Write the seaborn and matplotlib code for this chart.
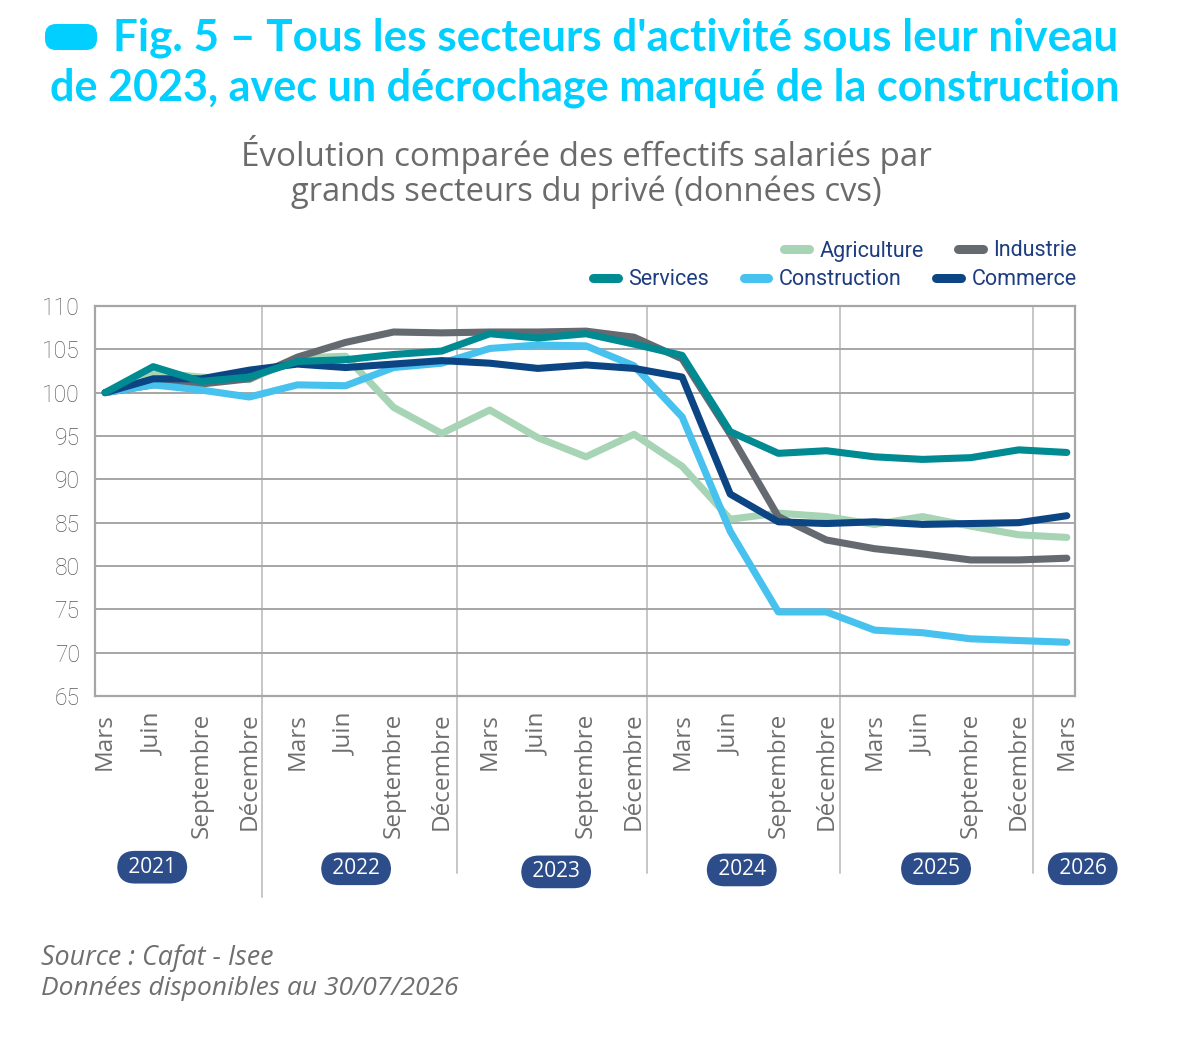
import numpy as np
import pandas as pd
import matplotlib
matplotlib.use("Agg")
import matplotlib.pyplot as plt
import matplotlib.transforms as mtransforms
from matplotlib.lines import Line2D
from matplotlib.patches import FancyBboxPatch
import seaborn as sns

# ---------------- data ----------------
months = ["Mars", "Juin", "Septembre", "Décembre"] * 5 + ["Mars"]
years = ["2021", "2022", "2023", "2024", "2025", "2026"]

agriculture = [100, 102.3, 101.8, 101.5, 104.0, 104.2, 98.3, 95.3, 98.0, 94.8, 92.6,
               95.2, 91.5, 85.4, 86.1, 85.7, 84.8, 85.7, 84.6, 83.6, 83.3]
industrie = [100, 100.9, 101.0, 101.6, 104.1, 105.8, 107.0, 106.9, 107.0, 107.0, 107.1,
             106.4, 103.9, 95.2, 85.7, 83.0, 82.0, 81.4, 80.7, 80.7, 80.9]
services = [100, 103.0, 101.3, 101.8, 103.6, 103.8, 104.4, 104.8, 106.8, 106.3, 106.8,
            105.6, 104.3, 95.5, 93.0, 93.3, 92.6, 92.3, 92.5, 93.4, 93.1]
construction = [100, 100.9, 100.3, 99.5, 100.9, 100.8, 102.9, 103.4, 105.1, 105.5, 105.4,
                103.1, 97.2, 84.0, 74.7, 74.7, 72.6, 72.3, 71.6, 71.4, 71.2]
commerce = [100, 101.6, 101.6, 102.6, 103.3, 102.9, 103.3, 103.7, 103.4, 102.8, 103.2,
            102.8, 101.8, 88.3, 85.1, 84.9, 85.1, 84.8, 84.9, 85.0, 85.8]

series = {
    "Agriculture": agriculture,
    "Industrie": industrie,
    "Services": services,
    "Construction": construction,
    "Commerce": commerce,
}
palette = {
    "Agriculture": "#A7D4B4",
    "Industrie": "#656A71",
    "Services": "#008A92",
    "Construction": "#47C1EE",
    "Commerce": "#0C4584",
}
draw_order = ["Agriculture", "Industrie", "Construction", "Commerce", "Services"]

n = len(months)
df = pd.DataFrame({
    "periode": np.tile(np.arange(n), len(series)),
    "secteur": np.repeat(list(series.keys()), n),
    "valeur": np.concatenate([series[k] for k in series]),
})

# ---------------- style ----------------
sns.set_theme(style="white")
plt.rcParams["font.family"] = ["Open Sans", "DejaVu Sans"]

W, H = 1180, 1040
fig = plt.figure(figsize=(W / 100, H / 100), dpi=100)
fig.patch.set_facecolor("white")

def fx(px):
    return px / W

def fy(py):
    return 1 - py / H

ax = fig.add_axes([fx(95), fy(696), fx(1075) - fx(95), fy(306) - fy(696)])

sns.lineplot(data=df, x="periode", y="valeur", hue="secteur", hue_order=draw_order,
             palette=palette, linewidth=5.1, legend=False, ax=ax,
             solid_capstyle="round", solid_joinstyle="round")

ax.set_xlim(-0.21, 20.17)
ax.set_ylim(65, 110)
ax.set_yticks(np.arange(65, 111, 5))
ax.set_xticks(np.arange(n))
ax.set_xticklabels(months, rotation=90, va="top", ha="center",
                   color="#6E6E6E", fontsize=17.5)
for lab in ax.get_yticklabels():
    lab.set_fontfamily(["Roboto", "DejaVu Sans"])
    lab.set_fontweight("light")
ax.tick_params(axis="y", labelsize=16.5, labelcolor="#5A5A5A", length=0, pad=11)
ax.tick_params(axis="x", length=0, pad=12)
ax.set_xlabel("")
ax.set_ylabel("")
ax.grid(False)
ax.yaxis.grid(True, color="#A6A6A6", linewidth=1.4)
ax.set_axisbelow(True)
for sp in ax.spines.values():
    sp.set_color("#A6A6A6")
    sp.set_linewidth(1.6)

# year separators (vertical lines extending under the labels)
blend = mtransforms.blended_transform_factory(ax.transData, ax.transAxes)
separators = [3.27, 7.32, 11.27, 15.28, 19.29]
bottoms = [-0.515, -0.454, -0.454, -0.454, -0.454]
for s, b in zip(separators, bottoms):
    ax.plot([s, s], [1, b], transform=blend, color="#C6C6C6", lw=1.4,
            clip_on=False, zorder=0.5)

# year badges
year_x = [0.98, 5.22, 9.38, 13.24, 17.28, 20.33]
year_y = [-0.439, -0.443, -0.451, -0.446, -0.443, -0.443]
for yr, xx, yy in zip(years, year_x, year_y):
    ax.text(xx, yy, " " + yr + " ", transform=blend, ha="center", va="center",
            color="white", fontsize=15, family=["Open Sans", "DejaVu Sans"],
            bbox=dict(boxstyle="round,pad=0.28,rounding_size=0.85",
                      fc="#2D4C8A", ec="none"), clip_on=False)

# ---------------- legends ----------------
def handle(name):
    return Line2D([0], [0], color=palette[name], lw=6.5, solid_capstyle="round")

leg_kw = dict(frameon=False, handlelength=1.15, handletextpad=0.5,
              columnspacing=1.6, borderpad=0, borderaxespad=0,
              labelcolor="#1D3D80",
              prop={"family": ["Roboto", "DejaVu Sans"], "size": 15.5})
row1 = ["Agriculture", "Industrie"]
row2 = ["Services", "Construction", "Commerce"]
leg1 = fig.legend([handle(k) for k in row1], row1, ncol=2, loc="center right",
                  bbox_to_anchor=(fx(1077), fy(251)), **leg_kw)
leg2 = fig.legend([handle(k) for k in row2], row2, ncol=3, loc="center right",
                  bbox_to_anchor=(fx(1077), fy(280)), **leg_kw)

# ---------------- titles ----------------
title_color = "#00CFFF"
t1 = fig.text(fx(113), fy(51), "Fig. 5 – Tous les secteurs d'activité sous leur niveau",
              ha="left", va="baseline", color=title_color, fontsize=28,
              fontweight="bold", family=["Lato", "DejaVu Sans"])
t2 = fig.text(fx(50), fy(101), "de 2023, avec un décrochage marqué de la construction",
              ha="left", va="baseline", color=title_color, fontsize=28,
              fontweight="bold", family=["Lato", "DejaVu Sans"])
pill = FancyBboxPatch((45, H - 50), 52, 26,
                      boxstyle="round,pad=0,rounding_size=11",
                      transform=mtransforms.IdentityTransform(),
                      fc=title_color, ec="none")
fig.patches.append(pill)

s1 = fig.text(fx(586.5), fy(166), "Évolution comparée des effectifs salariés par",
              ha="center", va="baseline", color="#6B6B6B", fontsize=22)
s2 = fig.text(fx(586.5), fy(201), "grands secteurs du privé (données cvs)",
              ha="center", va="baseline", color="#6B6B6B", fontsize=22)

src1 = fig.text(fx(41), fy(965), "Source : Cafat - Isee", ha="left", va="baseline",
                color="#6F6F6F", fontsize=16.5, style="italic")
src2 = fig.text(fx(41), fy(995), "Données disponibles au 30/07/2026", ha="left",
                va="baseline", color="#6F6F6F", fontsize=16.5, style="italic")

# fit text widths to the reference layout
renderer = fig.canvas.get_renderer()
for t, target in [(t1, 1005), (t2, 1068), (s1, 690), (s2, 590), (src1, 232), (src2, 418)]:
    w = t.get_window_extent(renderer).width
    t.set_fontsize(t.get_fontsize() * target / w)

fig.savefig("out.png", dpi=100, facecolor="white")
